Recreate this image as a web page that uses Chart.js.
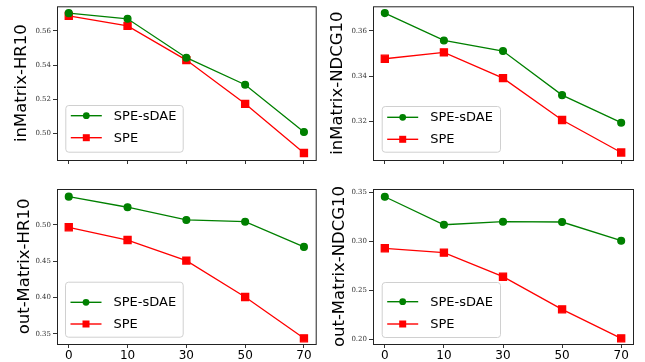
<!DOCTYPE html>
<html lang="en">
<head>
    <meta charset="UTF-8">
    <title>SPE vs SPE-sDAE</title>
    <script src="https://cdn.jsdelivr.net/npm/chart.js"></script>
    <style>
        body { margin: 0; background: #fff; }
        #wrap { position: relative; width: 645px; height: 362px; }
        .panel { position: absolute; }
        .panel canvas { display: block; }
    </style>
</head>
<body>
    <div id="wrap">
        <div class="panel" style="left:0;top:0"><canvas id="c-in-hr" width="322" height="170"></canvas></div>
        <div class="panel" style="left:322px;top:0"><canvas id="c-in-ndcg" width="323" height="170"></canvas></div>
        <div class="panel" style="left:0;top:170px"><canvas id="c-out-hr" width="322" height="192"></canvas></div>
        <div class="panel" style="left:322px;top:170px"><canvas id="c-out-ndcg" width="323" height="192"></canvas></div>
    </div>

    <script>
        // x categories (noise level)
        const noiseLevels = ['0', '10', '30', '50', '70'];
        const seriesNames = ['SPE-sDAE', 'SPE'];

        const inHrSdae = [0.5704, 0.5671, 0.5443, 0.5285, 0.5008];
        const inHrSpe = [0.5688, 0.5629, 0.5429, 0.5173, 0.4885];
        const inNdcgSdae = [0.3679, 0.3558, 0.3511, 0.3316, 0.3194];
        const inNdcgSpe = [0.3477, 0.3505, 0.3391, 0.3206, 0.3062];
        const outHrSdae = [0.5390, 0.5244, 0.5069, 0.5045, 0.4698];
        const outHrSpe = [0.4968, 0.4793, 0.4510, 0.4008, 0.3440];
        const outNdcgSdae = [0.3452, 0.3166, 0.3197, 0.3194, 0.3003];
        const outNdcgSpe = [0.2926, 0.2881, 0.2636, 0.2303, 0.2007];

        const inHrTicks = [0.50, 0.52, 0.54, 0.56];
        const inNdcgTicks = [0.32, 0.34, 0.36];
        const outHrTicks = [0.35, 0.40, 0.45, 0.50];
        const outNdcgTicks = [0.20, 0.25, 0.30, 0.35];

        const GREEN = '#008000';
        const RED = '#ff0000';

        // layout per panel: padL/padT/padR in px, axis widths, y range, legend box
        const panels = [
            { id: 'c-in-hr', title: 'inMatrix-HR10', a: inHrSdae, b: inHrSpe, ticks: inHrTicks,
              yMin: 0.4844, yMax: 0.5744, padL: 12, padT: 4, padR: 6, yW: 45, xH: 10, xLabels: false,
              lg: { dx: 8.3, w: 117.4, top: -55, bottom: -8.3, rows: [-44.3, -22.3] } },
            { id: 'c-in-ndcg', title: 'inMatrix-NDCG10', a: inNdcgSdae, b: inNdcgSpe, ticks: inNdcgTicks,
              yMin: 0.3029, yMax: 0.3709, padL: 6, padT: 4, padR: 12, yW: 45, xH: 10, xLabels: false,
              lg: { dx: 8.7, w: 118.3, top: -54, bottom: -8.3, rows: [-42.7, -20.7] } },
            { id: 'c-out-hr', title: 'out-Matrix-HR10', a: outHrSdae, b: outHrSpe, ticks: outHrTicks,
              yMin: 0.3362, yMax: 0.5495, padL: 15, padT: 19, padR: 6, yW: 42, xH: 18, xLabels: true,
              lg: { dx: 8, w: 117.7, top: -62.3, bottom: -7.3, rows: [-41.7, -20] } },
            { id: 'c-out-ndcg', title: 'out-Matrix-NDCG10', a: outNdcgSdae, b: outNdcgSpe, ticks: outNdcgTicks,
              yMin: 0.1949, yMax: 0.3531, padL: 8, padT: 19, padR: 12, yW: 43, xH: 18, xLabels: true,
              lg: { dx: 8.7, w: 118.3, top: -62, bottom: -7, rows: [-42.3, -20] } }
        ];

        function drawMarker(ctx, style, x, y, color) {
            ctx.fillStyle = color;
            ctx.beginPath();
            if (style === 'circle') {
                ctx.arc(x, y, 3.4, 0, Math.PI * 2);
            } else {
                ctx.rect(x - 3.5, y - 3.5, 7, 7);
            }
            ctx.fill();
        }

        const frameAndLegend = {
            id: 'frameAndLegend',
            afterDatasetsDraw(chart, args, opts) {
                const ctx = chart.ctx;
                const a = chart.chartArea;
                ctx.save();
                ctx.strokeStyle = '#222';
                ctx.lineWidth = 1;
                ctx.strokeRect(a.left + 0.5, a.top + 0.5, a.right - a.left, a.bottom - a.top);

                const lg = opts.box;
                const x0 = a.left + lg.dx;
                const y0 = a.bottom + lg.top;
                const h = lg.bottom - lg.top;
                ctx.beginPath();
                ctx.roundRect(x0 + 0.5, y0 + 0.5, lg.w, h, 3);
                ctx.fillStyle = 'rgba(255,255,255,0.85)';
                ctx.fill();
                ctx.strokeStyle = '#d0d0d0';
                ctx.stroke();

                chart.data.datasets.forEach((ds, i) => {
                    const ry = a.bottom + lg.rows[i];
                    ctx.strokeStyle = ds.borderColor;
                    ctx.lineWidth = 1.4;
                    ctx.beginPath();
                    ctx.moveTo(x0 + 5.5, ry);
                    ctx.lineTo(x0 + 36.5, ry);
                    ctx.stroke();
                    drawMarker(ctx, ds.pointStyle, x0 + 21, ry, ds.backgroundColor);
                    ctx.fillStyle = '#000';
                    ctx.font = '13px "DejaVu Sans"';
                    ctx.textBaseline = 'middle';
                    ctx.fillText(ds.label, x0 + 48.5, ry + 0.5);
                });
                ctx.restore();
            }
        };

        function makeChart(p) {
            const toPoints = arr => arr.map((v, i) => ({ x: i, y: v }));
            new Chart(document.getElementById(p.id), {
                type: 'line',
                data: {
                    datasets: [
                        { label: seriesNames[0], data: toPoints(p.a), borderColor: GREEN, backgroundColor: GREEN,
                          pointStyle: 'circle', pointRadius: 3.4, borderWidth: 1.3, tension: 0 },
                        { label: seriesNames[1], data: toPoints(p.b), borderColor: RED, backgroundColor: RED,
                          pointStyle: 'rect', pointRadius: 5, borderWidth: 1.3, tension: 0 }
                    ]
                },
                options: {
                    responsive: false,
                    animation: false,
                    devicePixelRatio: 1,
                    layout: { padding: { left: p.padL, top: p.padT, right: p.padR, bottom: 0 } },
                    plugins: {
                        legend: { display: false },
                        tooltip: { enabled: false },
                        frameAndLegend: { box: p.lg }
                    },
                    scales: {
                        x: {
                            type: 'linear',
                            min: -0.2,
                            max: 4.2,
                            border: { display: false },
                            grid: { drawOnChartArea: false, drawTicks: true, tickLength: 4, color: '#333' },
                            afterBuildTicks: s => { s.ticks = noiseLevels.map((_, i) => ({ value: i })); },
                            afterFit: s => { s.height = p.xH; s.paddingLeft = 0; s.paddingRight = 0; },
                            ticks: {
                                display: p.xLabels,
                                padding: 1,
                                color: '#000',
                                font: { family: 'DejaVu Sans', size: 12 },
                                maxRotation: 0,
                                callback: v => noiseLevels[v]
                            }
                        },
                        y: {
                            min: p.yMin,
                            max: p.yMax,
                            border: { display: false },
                            grid: { drawOnChartArea: false, drawTicks: true, tickLength: 4, color: '#333' },
                            afterBuildTicks: s => { s.ticks = p.ticks.map(v => ({ value: v })); },
                            afterFit: s => { s.width = p.yW; s.paddingTop = 0; s.paddingBottom = 0; },
                            ticks: {
                                padding: 2,
                                color: '#333',
                                font: { family: 'DejaVu Serif', size: 7 },
                                callback: v => v.toFixed(2)
                            },
                            title: {
                                display: true,
                                text: p.title,
                                color: '#000',
                                padding: { top: 0, bottom: 0 },
                                font: { family: 'DejaVu Sans', size: 16.5, lineHeight: 1.2 }
                            }
                        }
                    }
                },
                plugins: [frameAndLegend]
            });
        }

        panels.forEach(makeChart);
    </script>
</body>
</html>
